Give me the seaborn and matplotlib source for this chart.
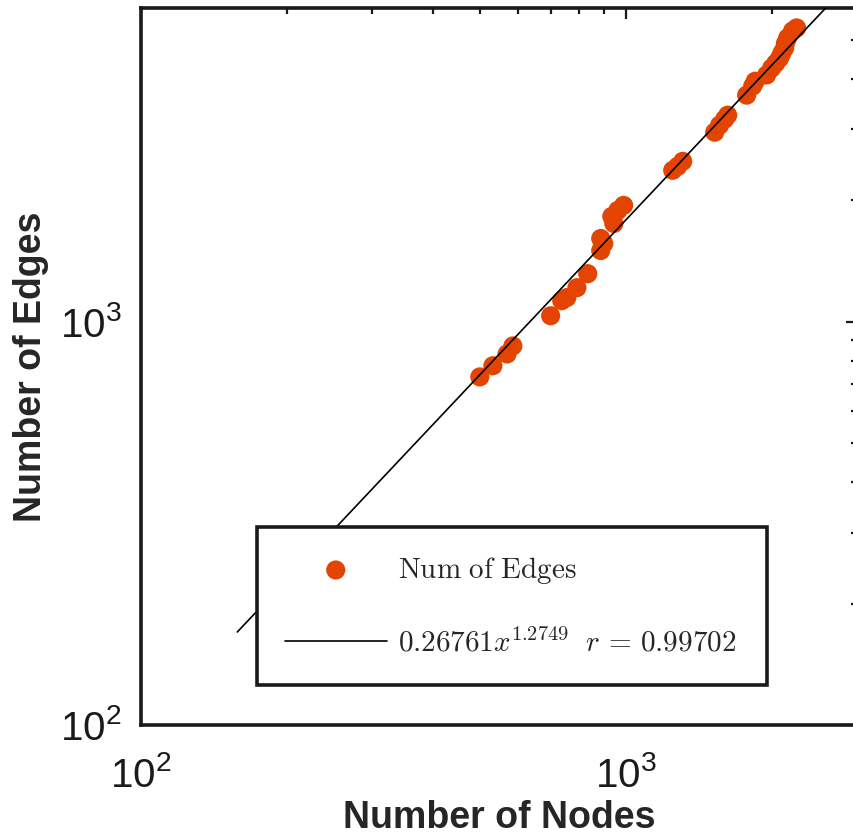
import numpy as np
import pandas as pd
import matplotlib
matplotlib.use("Agg")
import matplotlib.pyplot as plt
import seaborn as sns
from matplotlib.font_manager import FontProperties
from matplotlib.ticker import NullFormatter, LogLocator

# ------------------- Data -------------------
nodes = [500, 532, 569, 585, 700, 738, 756, 793, 835, 888, 888, 901, 936, 945,
         963, 990, 1250, 1280, 1311, 1526, 1562, 1600, 1623, 1776, 1828, 1850,
         1953, 2000, 2040, 2078, 2100, 2127, 2135, 2158, 2209, 2252]
edges = [730, 778, 832, 871, 1035, 1128, 1148, 1215, 1316, 1502, 1609, 1563,
         1825, 1753, 1889, 1944, 2375, 2430, 2500, 2952, 3074, 3180, 3253, 3648,
         3843, 3950, 4093, 4258, 4380, 4510, 4640, 4775, 4900, 5058, 5264, 5355]

# power-law fit shown in the legend
fit_coef = 0.26761
fit_exp = 1.2749
fit_r = 0.99702
fit_x_range = [158, 3000]

point_color = "#E34402"

# ------------------- Style -------------------
sns.set_style("white")
plt.rcParams['font.family'] = ['Liberation Sans', 'DejaVu Sans']
plt.rcParams['mathtext.fontset'] = 'custom'
plt.rcParams['mathtext.rm'] = 'Liberation Sans'
plt.rcParams['mathtext.it'] = 'Liberation Sans:italic'
plt.rcParams['mathtext.bf'] = 'Liberation Sans:bold'
plt.rcParams['mathtext.default'] = 'regular'

fig = plt.figure(figsize=(8.54, 8.39), dpi=100)
ax = fig.add_axes([141/854, (839-725)/839, 716/854, 717/839])
ax.set_xscale('log')
ax.set_yscale('log')

df = pd.DataFrame({"Nodes": nodes, "Edges": edges})
line_x = np.geomspace(fit_x_range[0], fit_x_range[1], 50)
fit_df = pd.DataFrame({"x": line_x, "y": fit_coef * line_x ** fit_exp})

fit_label = (f"$\\mathrm{{{fit_coef}}}\\mathit{{x}}^{{\\mathrm{{{fit_exp}}}}}"
             f"\\ \\ \\mathit{{r}}\\mathrm{{\\,=\\,}}\\mathrm{{{fit_r}}}$")

sns.scatterplot(data=df, x="Nodes", y="Edges", ax=ax, s=190, color=point_color,
                edgecolor='none', linewidth=0, label=r'$\mathrm{Num\ of\ Edges}$', zorder=2)
sns.lineplot(data=fit_df, x="x", y="y", ax=ax, color='black', linewidth=1.2,
             label=fit_label, zorder=3)

ax.set_xlim(100, 3000)
ax.set_ylim(100, 6000)

# ------------------- Ticks & spines -------------------
for axis in (ax.xaxis, ax.yaxis):
    axis.set_major_locator(LogLocator(base=10, numticks=10))
    axis.set_minor_locator(LogLocator(base=10, subs=np.arange(2, 10), numticks=20))
    axis.set_minor_formatter(NullFormatter())

ax.tick_params(which='both', direction='in', top=True, right=True, width=1.6, colors='#1a1a1a')
ax.tick_params(which='major', length=8, labelsize=29)
ax.tick_params(axis='x', which='major', pad=22)
ax.tick_params(axis='y', which='major', pad=14)
ax.tick_params(which='minor', length=4)
for sp in ax.spines.values():
    sp.set_linewidth(2.6)
    sp.set_color('#1a1a1a')

ax.set_xlabel('Number of Nodes', fontsize=27, fontweight='bold', labelpad=4)
ax.set_ylabel('Number of Edges', fontsize=27, fontweight='bold', labelpad=8)

# ------------------- Legend -------------------
leg = ax.legend(loc='lower left', bbox_to_anchor=(0.162, 0.056, 0.712, 0.219), mode='expand',
                prop=FontProperties(size=21, math_fontfamily='cm'), frameon=True, fancybox=False,
                framealpha=1, edgecolor='#1a1a1a', borderpad=0.95, labelspacing=1.45,
                handlelength=3.5, handletextpad=0.4, borderaxespad=0)
leg.get_frame().set_linewidth(2.6)

plt.savefig("out.png", dpi=100)
